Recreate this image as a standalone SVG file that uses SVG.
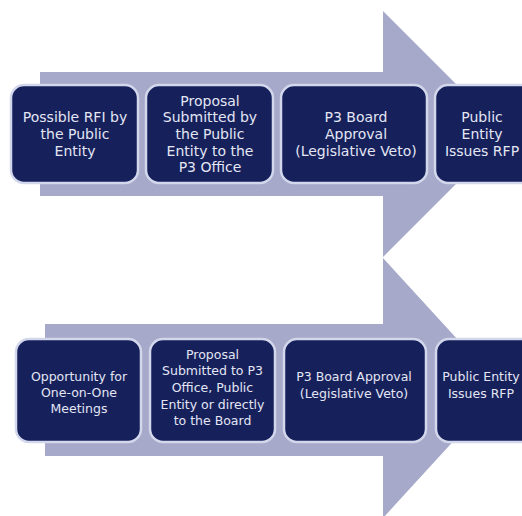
<svg xmlns="http://www.w3.org/2000/svg" width="522" height="516" viewBox="0 0 522 516">
<style>
.arrow{fill:#a6a9c9}
.box{fill:#16215c;stroke:#d3d7ec;stroke-width:2.5}
.t1{font-family:"DejaVu Sans",Verdana,sans-serif;font-size:14px;fill:#e4e6f4;text-anchor:middle}
.t2{font-family:"DejaVu Sans",Verdana,sans-serif;font-size:12.5px;fill:#e4e6f4;text-anchor:middle}
</style>
<rect width="522" height="516" fill="#ffffff"/>
<g id="connectors">
<path class="arrow" d="M40,72 H383 V11 L506,134 L383,257 V196 H40 Z"/>
<path class="arrow" d="M45,324 H383 V258 L502,388 L383,518 V456 H45 Z"/>
</g>
<g id="n1"><rect class="box" x="11" y="85" width="127" height="98" rx="13"/>
<text class="t1"><tspan x="75" y="122">Possible RFI by</tspan><tspan x="75" y="139">the Public</tspan><tspan x="75" y="156">Entity</tspan></text></g>
<g id="n2"><rect class="box" x="146" y="85" width="127" height="98" rx="13"/>
<text class="t1"><tspan x="210" y="105.5">Proposal</tspan><tspan x="210" y="122.2">Submitted by</tspan><tspan x="210" y="139">the Public</tspan><tspan x="210" y="155.7">Entity to the</tspan><tspan x="210" y="172.4">P3 Office</tspan></text></g>
<g id="n3"><rect class="box" x="281" y="85" width="146" height="98" rx="13"/>
<text class="t1"><tspan x="356" y="122">P3 Board</tspan><tspan x="356" y="139">Approval</tspan><tspan x="356" y="156">(Legislative Veto)</tspan></text></g>
<g id="n4"><rect class="box" x="435" y="85" width="100" height="98" rx="13"/>
<text class="t1"><tspan x="482" y="122">Public</tspan><tspan x="482" y="139">Entity</tspan><tspan x="482" y="156">Issues RFP</tspan></text></g>
<g id="n5"><rect class="box" x="16" y="339" width="125" height="103" rx="13"/>
<text class="t2"><tspan x="79" y="380.5">Opportunity for</tspan><tspan x="79" y="396.5">One-on-One</tspan><tspan x="79" y="412.5">Meetings</tspan></text></g>
<g id="n6"><rect class="box" x="150" y="339" width="125" height="103" rx="13"/>
<text class="t2"><tspan x="212.5" y="358.5">Proposal</tspan><tspan x="212.5" y="375.2">Submitted to P3</tspan><tspan x="212.5" y="391.9">Office, Public</tspan><tspan x="212.5" y="408.6">Entity or directly</tspan><tspan x="212.5" y="425.3">to the Board</tspan></text></g>
<g id="n7"><rect class="box" x="284" y="339" width="142" height="103" rx="13"/>
<text class="t2"><tspan x="354" y="380.5">P3 Board Approval</tspan><tspan x="354" y="397.5">(Legislative Veto)</tspan></text></g>
<g id="n8"><rect class="box" x="436" y="339" width="100" height="103" rx="13"/>
<text class="t2"><tspan x="481" y="380.5">Public Entity</tspan><tspan x="481" y="397.5">Issues RFP</tspan></text></g>
</svg>
